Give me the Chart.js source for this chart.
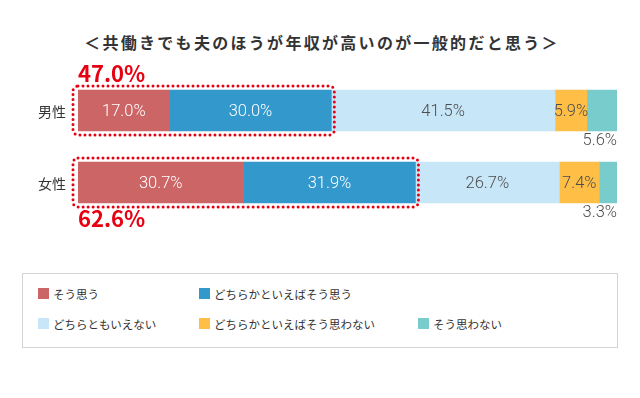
<!DOCTYPE html>
<html lang="ja">
<head>
<meta charset="utf-8">
<script src="https://cdn.jsdelivr.net/npm/chart.js@4"></script>
<style>
    body { margin: 0; background: #fff; font-family: "Noto Sans CJK JP", sans-serif; }
    #wrap { position: relative; width: 640px; height: 398px; }
    #title {
        position: absolute; left: 2px; top: 30px; width: 640px; text-align: center;
        font-size: 16px; font-weight: bold; color: #333; letter-spacing: 2.3px;
    }
    #chartBox { position: absolute; left: 0; top: 0; width: 640px; height: 260px; }
    #legend {
        position: absolute; left: 22px; top: 273px; width: 596px; height: 75px;
        border: 1px solid #d4d4d4; box-sizing: border-box;
    }
    .item { position: absolute; font-size: 11.5px; color: #333; line-height: 14px; white-space: nowrap; }
    .item i { position: absolute; left: -15px; top: 1px; width: 11px; height: 11px; }
</style>
</head>
<body>
<div id="wrap">
    <div id="title">＜共働きでも夫のほうが年収が高いのが一般的だと思う＞</div>
    <div id="chartBox"><canvas id="chart" width="640" height="260"></canvas></div>
    <div id="legend"></div>
</div>
<script>
// --- Data ---
const categories = ["男性", "女性"];
const seriesNames = ["そう思う", "どちらかといえばそう思う", "どちらともいえない", "どちらかといえばそう思わない", "そう思わない"];
const seriesColors = ["#cc6666", "#3399cc", "#c7e6f8", "#ffbf47", "#79cccc"];
const soOmou = [17.0, 30.7];
const dochiraSoOmou = [30.0, 31.9];
const dochiraMo = [41.5, 26.7];
const dochiraOmowanai = [5.9, 7.4];
const omowanai = [5.6, 3.3];
const seriesValues = [soOmou, dochiraSoOmou, dochiraMo, dochiraOmowanai, omowanai];

const numFont = '300 16.5px Roboto, sans-serif';

// labels, totals and dotted frames
const overlay = {
    id: 'overlay',
    afterDatasetsDraw(chart) {
        const ctx = chart.ctx;
        const area = chart.chartArea;
        ctx.save();
        ctx.textBaseline = 'middle';

        // category labels
        ctx.font = '14px "Noto Sans CJK JP", sans-serif';
        ctx.fillStyle = '#333';
        ctx.textAlign = 'right';
        const yScale = chart.scales.y;
        categories.forEach((c, i) => {
            ctx.fillText(c, area.left - 12, yScale.getPixelForValue(i) + 1);
        });

        // value labels
        ctx.font = numFont;
        chart.data.datasets.forEach((ds, di) => {
            const meta = chart.getDatasetMeta(di);
            meta.data.forEach((bar, i) => {
                const txt = ds.data[i].toFixed(1) + '%';
                ctx.fillStyle = di < 2 ? '#fff' : '#4d4d4d';
                if (di === 4) {
                    ctx.textAlign = 'right';
                    ctx.fillText(txt, area.right, bar.y + bar.height / 2 + 10);
                } else {
                    ctx.textAlign = 'center';
                    ctx.fillText(txt, (bar.x + bar.base) / 2, bar.y + 1);
                }
            });
        });

        // dotted frames + totals
        const m0 = chart.getDatasetMeta(0), m1 = chart.getDatasetMeta(1);
        categories.forEach((c, i) => {
            const b0 = m0.data[i], b1 = m1.data[i];
            const x0 = b0.base - 5, x1 = b1.x + 3;
            const y0 = b0.y - b0.height / 2 - 4, y1 = b0.y + b0.height / 2 + 4;
            ctx.beginPath();
            ctx.roundRect(x0, y0, x1 - x0, y1 - y0, 5);
            ctx.setLineDash([0, 5]);
            ctx.lineCap = 'round';
            ctx.lineWidth = 3;
            ctx.strokeStyle = '#e60012';
            ctx.stroke();
            ctx.setLineDash([]);

            const total = (soOmou[i] + dochiraSoOmou[i]).toFixed(1) + '%';
            ctx.font = 'bold 22px "Noto Sans CJK JP", sans-serif';
            ctx.fillStyle = '#e60012';
            ctx.textAlign = 'left';
            const ty = i === 0 ? y0 - 12 : y1 + 12;
            ctx.fillText(total, area.left, ty);
        });
        ctx.restore();
    }
};

new Chart(document.getElementById('chart').getContext('2d'), {
    type: 'bar',
    data: {
        labels: categories,
        datasets: seriesNames.map((n, k) => ({
            label: n,
            data: seriesValues[k],
            backgroundColor: seriesColors[k],
            borderWidth: 0,
            barThickness: 41
        }))
    },
    options: {
        indexAxis: 'y',
        responsive: false,
        animation: false,
        layout: { padding: { left: 78, right: 23, top: 74.5, bottom: 41.5 } },
        scales: {
            x: { stacked: true, min: 0, max: 100, display: false },
            y: { stacked: true, display: false }
        },
        plugins: {
            legend: { display: false },
            tooltip: { enabled: false }
        }
    },
    plugins: [overlay]
});

// --- HTML legend ---
const legendPos = [[52, 13], [213, 13], [52, 43], [213, 43], [432, 43]];
const legendEl = document.getElementById('legend');
seriesNames.forEach((n, k) => {
    const d = document.createElement('div');
    d.className = 'item';
    d.style.left = (legendPos[k][0] - 22) + 'px';
    d.style.top = legendPos[k][1] + 'px';
    d.innerHTML = '<i style="background:' + seriesColors[k] + '"></i>' + n;
    legendEl.appendChild(d);
});
</script>
</body>
</html>
